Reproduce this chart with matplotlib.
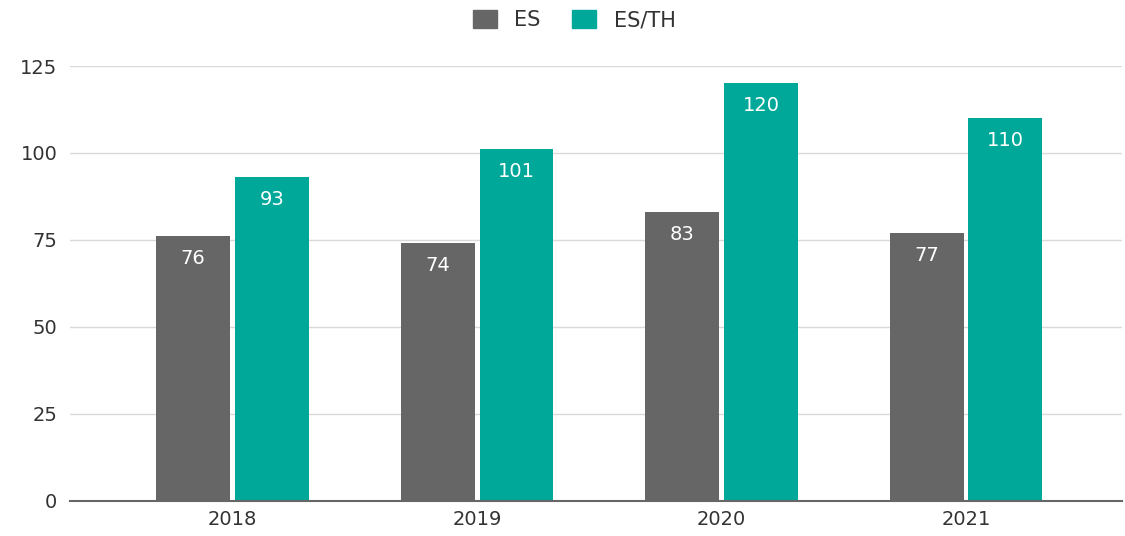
import matplotlib
matplotlib.use("Agg")
import matplotlib.pyplot as plt
from matplotlib.patches import Patch
import numpy as np

years = ["2018", "2019", "2020", "2021"]
es = [76, 74, 83, 77]
es_th = [93, 101, 120, 110]
series_names = ["ES", "ES/TH"]
yticks = [0, 25, 50, 75, 100, 125]

gray = "#666666"
teal = "#00a89a"

plt.rcParams["font.family"] = ["DejaVu Sans"]

fig = plt.figure(figsize=(11.25, 5.36), dpi=100)
ax = fig.add_axes([70 / 1125, 35.3 / 536, 1052 / 1125, 434.7 / 536])

x = np.arange(len(years))
w = 0.302
gap = 0.01
b1 = ax.bar(x - w / 2 - gap, es, w, color=gray, zorder=3)
b2 = ax.bar(x + w / 2 + gap, es_th, w, color=teal, zorder=3)

for bars, vals in ((b1, es), (b2, es_th)):
    for rect, v in zip(bars, vals):
        ax.annotate(str(v), (rect.get_x() + rect.get_width() / 2, v),
                    xytext=(0, -16), textcoords="offset points",
                    ha="center", va="center", color="white", fontsize=14)

ax.set_ylim(0, 125)
ax.set_xlim(-0.665, 3.638)
ax.set_yticks(yticks)
ax.set_xticks(x)
ax.set_xticklabels(years)
ax.tick_params(axis="both", length=0, labelsize=14, colors="#333333")
ax.tick_params(axis="y", pad=9)
ax.tick_params(axis="x", pad=7)
ax.grid(axis="y", color="#d9d9d9", linewidth=1, zorder=0)
for s in ("top", "right", "left"):
    ax.spines[s].set_visible(False)
ax.spines["bottom"].set_color("#666666")
ax.spines["bottom"].set_linewidth(1.5)
ax.spines["bottom"].set_zorder(4)

handles = [Patch(color=gray), Patch(color=teal)]
fig.legend(handles, series_names, loc="center", bbox_to_anchor=(574 / 1125, 1 - 20 / 536),
           ncol=2, frameon=False, fontsize=15, handlelength=1.15, handleheight=0.95,
           columnspacing=1.5, handletextpad=0.85, labelcolor="#333333")

fig.savefig("out.png", dpi=100)
